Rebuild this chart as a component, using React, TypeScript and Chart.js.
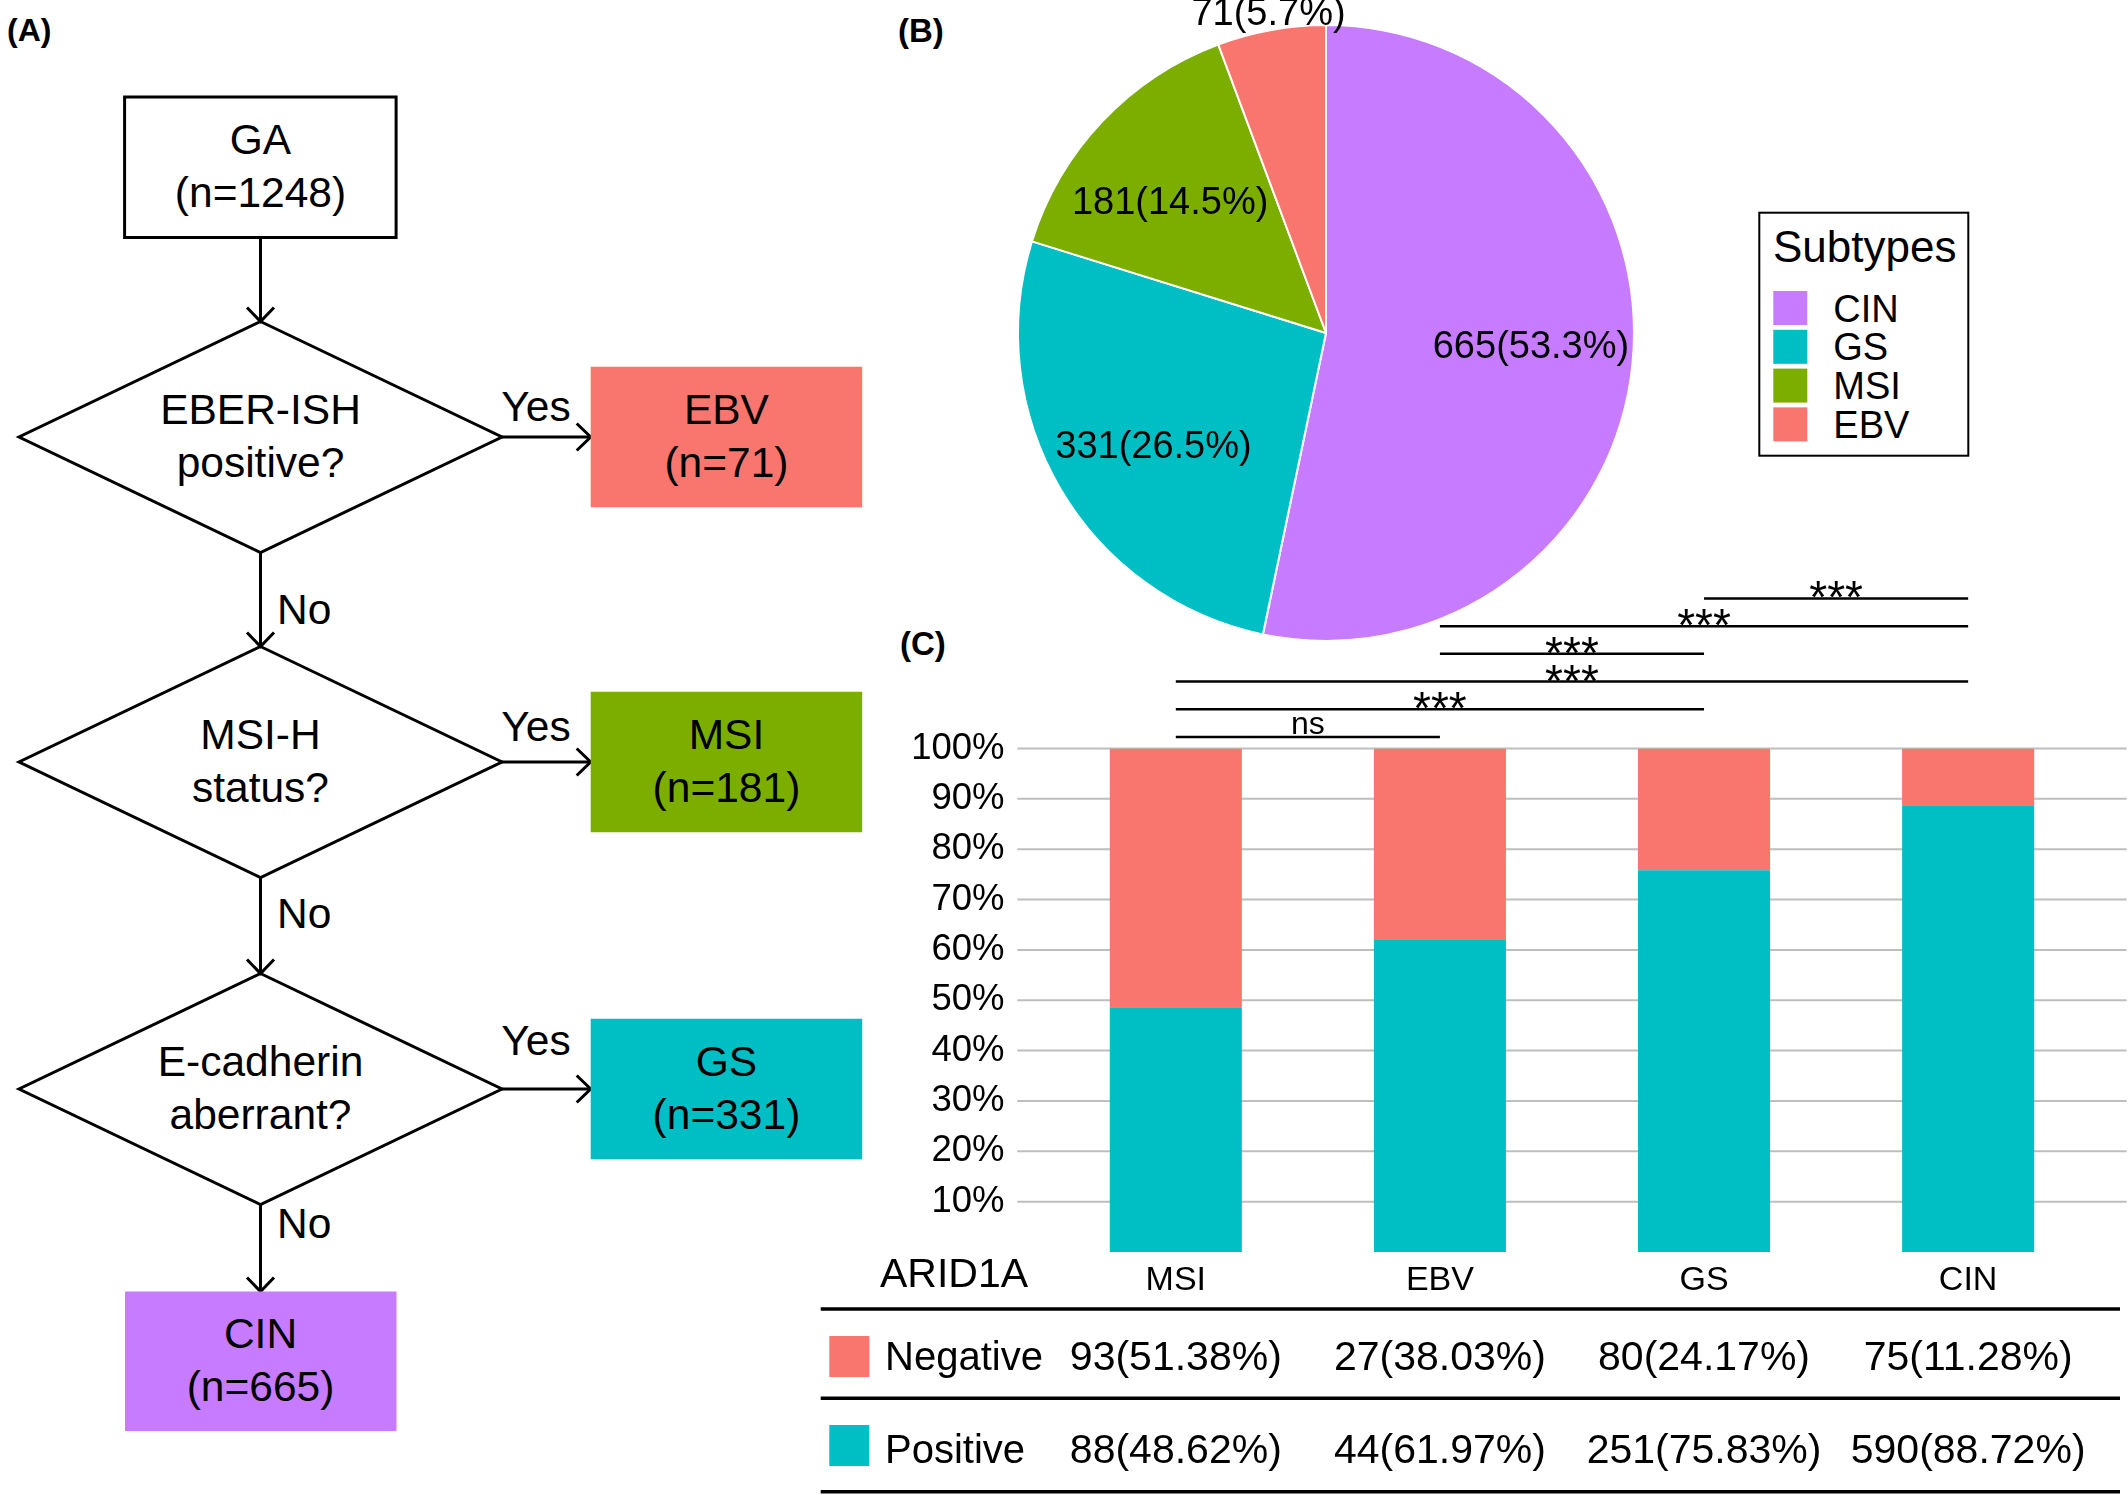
import React, { useEffect, useRef } from "react";
import { Chart, registerables } from "chart.js";

Chart.register(...registerables);

// ---------------- data ----------------
const SUBTYPES = ["CIN", "GS", "MSI", "EBV"];
const SUBTYPE_COUNTS = [665, 331, 181, 71];
const SUBTYPE_COLORS = ["#C77CFF", "#00BFC4", "#7CAE00", "#F8766D"];

const BAR_CATEGORIES = ["MSI", "EBV", "GS", "CIN"];
const SERIES_NAMES = ["Negative", "Positive"];
const ARID1A_NEGATIVE = [93, 27, 80, 75];
const ARID1A_POSITIVE = [88, 44, 251, 590];
const Y_TICK_VALUES = [10, 20, 30, 40, 50, 60, 70, 80, 90, 100];

const SIG_FROM = [0, 0, 0, 1, 1, 2];
const SIG_TO = [1, 2, 3, 2, 3, 3];
const SIG_LABELS = ["ns", "***", "***", "***", "***", "***"];

const FLOW_START = "GA";
const FLOW_QUESTIONS = [
  ["EBER-ISH", "positive?"],
  ["MSI-H", "status?"],
  ["E-cadherin", "aberrant?"],
];
const FLOW_OUTCOMES = ["EBV", "MSI", "GS"];
const FLOW_REST = "CIN";

// ---------------- styles ----------------
const FONT = "'Liberation Sans', Arial, Helvetica, sans-serif";
const NEG_COLOR = "#F8766D";
const POS_COLOR = "#00BFC4";
const GRID_COLOR = "#BEBEBE";
const PIE_LABEL_RADIUS = [0.667, 0.672, 0.657, 1.05];
const PIE_LABEL_SHIFT_DEG = [-2, -3.1, -3.8, 0];
const SIG_BASE = 102.3;
const SIG_STEP = 5.5;

const PIE_CANVAS = { left: 946, top: 0, width: 760, height: 700 };
const BAR_CANVAS = { left: 800, top: 560, width: 1328, height: 934 };

const colorOf = (name: string) => SUBTYPE_COLORS[SUBTYPES.indexOf(name)];
const countOf = (name: string) => SUBTYPE_COUNTS[SUBTYPES.indexOf(name)];

// ---------------- flowchart (SVG) ----------------
function Flowchart() {
  const total = SUBTYPE_COUNTS.reduce((a, b) => a + b, 0);
  const cx = 260.5;
  const hw = 241.5;
  const hh = 115.5;
  const dCY = [437, 762, 1089];
  const outX = 590.7;
  const boxW = 271.5;
  const boxH = 140.5;
  const gaTop = 97;
  const cinTop = 1291.5;
  const yesBase = [421, 741, 1055];
  const noBase = [624, 927.5, 1237.6];
  const sw = 3;
  const fs = 42.5;

  const arrow = (x1: number, y1: number, x2: number, y2: number, key: string) => {
    const ang = Math.atan2(y2 - y1, x2 - x1);
    const back = 14;
    const side = 13.5;
    const bx = x2 - Math.cos(ang) * back;
    const by = y2 - Math.sin(ang) * back;
    const px = -Math.sin(ang) * side;
    const py = Math.cos(ang) * side;
    return (
      <g key={key}>
        <line x1={x1} y1={y1} x2={x2} y2={y2} stroke="#000" strokeWidth={sw} />
        <polyline
          points={`${bx + px},${by + py} ${x2},${y2} ${bx - px},${by - py}`}
          fill="none"
          stroke="#000"
          strokeWidth={sw}
        />
      </g>
    );
  };

  const twoLines = (x: number, cy: number, l1: string, l2: string, key: string) => (
    <g key={key}>
      <text x={x} y={cy - 13} textAnchor="middle" fontSize={fs} fontFamily={FONT} fill="#000">
        {l1}
      </text>
      <text x={x} y={cy + 40} textAnchor="middle" fontSize={fs} fontFamily={FONT} fill="#000">
        {l2}
      </text>
    </g>
  );

  const els: any[] = [];
  els.push(
    <rect key="ga" x={124.6} y={gaTop} width={boxW} height={boxH} fill="none" stroke="#000" strokeWidth={sw} />
  );
  els.push(twoLines(cx, gaTop + boxH / 2, FLOW_START, `(n=${total})`, "gat"));
  els.push(arrow(cx, gaTop + boxH, cx, dCY[0] - hh, "a0"));

  FLOW_QUESTIONS.forEach((q, i) => {
    const cy = dCY[i];
    els.push(
      <polygon
        key={"d" + i}
        points={`${cx},${cy - hh} ${cx + hw},${cy} ${cx},${cy + hh} ${cx - hw},${cy}`}
        fill="none"
        stroke="#000"
        strokeWidth={sw}
        strokeLinejoin="miter"
      />
    );
    els.push(twoLines(cx, cy, q[0], q[1], "dt" + i));
    els.push(arrow(cx + hw, cy, outX, cy, "ya" + i));
    els.push(
      <text key={"yes" + i} x={536} y={yesBase[i]} textAnchor="middle" fontSize={fs} fontFamily={FONT}>
        Yes
      </text>
    );
    const name = FLOW_OUTCOMES[i];
    els.push(<rect key={"ob" + i} x={outX} y={cy - boxH / 2} width={boxW} height={boxH} fill={colorOf(name)} />);
    els.push(twoLines(outX + boxW / 2, cy, name, `(n=${countOf(name)})`, "ot" + i));
    const nextTop = i < FLOW_QUESTIONS.length - 1 ? dCY[i + 1] - hh : cinTop;
    els.push(arrow(cx, cy + hh, cx, nextTop, "na" + i));
    els.push(
      <text key={"no" + i} x={277} y={noBase[i]} fontSize={fs} fontFamily={FONT}>
        No
      </text>
    );
  });

  els.push(<rect key="cin" x={125} y={cinTop} width={boxW} height={boxH - 1} fill={colorOf(FLOW_REST)} />);
  els.push(twoLines(cx, cinTop + (boxH - 1) / 2, FLOW_REST, `(n=${countOf(FLOW_REST)})`, "cint"));

  return <g>{els}</g>;
}

function Legend() {
  const x0 = 1759.3;
  const y0 = 212.7;
  const sqTop = 291;
  const pitch = 38.8;
  return (
    <g>
      <rect x={x0} y={y0} width={209} height={243} fill="#fff" stroke="#000" strokeWidth={2} />
      <text x={1773} y={261.7} fontSize={44} fontFamily={FONT}>
        Subtypes
      </text>
      {SUBTYPES.map((s, i) => (
        <g key={s}>
          <rect x={1773.3} y={sqTop + i * pitch} width={34} height={34} fill={SUBTYPE_COLORS[i]} />
          <text x={1833.3} y={sqTop + i * pitch + 17 + 13.5} fontSize={38} fontFamily={FONT}>
            {s}
          </text>
        </g>
      ))}
    </g>
  );
}

// ---------------- pie chart ----------------
function PieChart() {
  const ref = useRef<HTMLCanvasElement | null>(null);
  useEffect(() => {
    if (!ref.current) return;
    const total = SUBTYPE_COUNTS.reduce((a, b) => a + b, 0);
    const labelPlugin = {
      id: "pieLabels",
      afterDatasetsDraw(chart: any) {
        const { ctx } = chart;
        const meta = chart.getDatasetMeta(0);
        ctx.save();
        ctx.font = `38px ${FONT}`;
        ctx.fillStyle = "#000";
        ctx.textAlign = "center";
        ctx.textBaseline = "middle";
        meta.data.forEach((arc: any, i: number) => {
          const p = arc.getProps(["x", "y", "startAngle", "endAngle", "outerRadius"], true);
          const mid = (p.startAngle + p.endAngle) / 2 + (PIE_LABEL_SHIFT_DEG[i] * Math.PI) / 180;
          const r = p.outerRadius * PIE_LABEL_RADIUS[i];
          const v = SUBTYPE_COUNTS[i];
          const txt = `${v}(${((v / total) * 100).toFixed(1)}%)`;
          ctx.fillText(txt, p.x + Math.cos(mid) * r, p.y + Math.sin(mid) * r);
        });
        ctx.restore();
      },
    };
    const chart = new Chart(ref.current, {
      type: "pie",
      data: {
        labels: SUBTYPES,
        datasets: [
          {
            data: SUBTYPE_COUNTS,
            backgroundColor: SUBTYPE_COLORS,
            borderColor: "#ffffff",
            borderWidth: 2,
          },
        ],
      },
      options: {
        responsive: false,
        animation: false,
        layout: { padding: { left: 71, right: 71, top: 24, bottom: 58 } },
        plugins: { legend: { display: false }, tooltip: { enabled: false } },
      },
      plugins: [labelPlugin],
    } as any);
    return () => chart.destroy();
  }, []);
  return (
    <canvas
      ref={ref}
      width={PIE_CANVAS.width}
      height={PIE_CANVAS.height}
      style={{ position: "absolute", left: PIE_CANVAS.left, top: PIE_CANVAS.top, width: PIE_CANVAS.width, height: PIE_CANVAS.height }}
    />
  );
}

// ---------------- bar chart + table ----------------
function BarChart() {
  const ref = useRef<HTMLCanvasElement | null>(null);
  useEffect(() => {
    if (!ref.current) return;
    const totals = ARID1A_NEGATIVE.map((n, i) => n + ARID1A_POSITIVE[i]);
    const negPct = ARID1A_NEGATIVE.map((n, i) => (n / totals[i]) * 100);
    const posPct = ARID1A_POSITIVE.map((n, i) => (n / totals[i]) * 100);
    const ox = BAR_CANVAS.left;
    const oy = BAR_CANVAS.top;

    // horizontal grid extends 0.1 category beyond the outer category edges (ggplot expansion)
    const gridPlugin = {
      id: "extGrid",
      beforeDatasetsDraw(chart: any) {
        const { ctx, chartArea } = chart;
        const xs = chart.scales.x;
        const ys = chart.scales.y;
        const step = xs.getPixelForValue(1) - xs.getPixelForValue(0);
        const x1 = chartArea.left - 0.1 * step;
        const x2 = chartArea.right + 0.1 * step;
        ctx.save();
        ctx.strokeStyle = GRID_COLOR;
        ctx.lineWidth = 2;
        Y_TICK_VALUES.forEach((v) => {
          const yy = ys.getPixelForValue(v);
          ctx.beginPath();
          ctx.moveTo(x1, yy);
          ctx.lineTo(x2, yy);
          ctx.stroke();
        });
        ctx.restore();
      },
    };

    const overlay = {
      id: "overlay",
      afterDraw(chart: any) {
        const { ctx } = chart;
        const xs = chart.scales.x;
        const ys = chart.scales.y;
        ctx.save();
        ctx.strokeStyle = "#000";
        ctx.fillStyle = "#000";
        ctx.lineWidth = 2.5;
        ctx.textAlign = "center";
        ctx.textBaseline = "alphabetic";
        SIG_LABELS.forEach((lab, k) => {
          const yy = ys.getPixelForValue(SIG_BASE + SIG_STEP * k);
          const x1 = xs.getPixelForValue(SIG_FROM[k]);
          const x2 = xs.getPixelForValue(SIG_TO[k]);
          ctx.beginPath();
          ctx.moveTo(x1, yy);
          ctx.lineTo(x2, yy);
          ctx.stroke();
          if (lab === "ns") {
            ctx.font = `32px ${FONT}`;
            ctx.fillText(lab, (x1 + x2) / 2, yy - 3);
          } else {
            ctx.font = `46px ${FONT}`;
            ctx.fillText(lab, (x1 + x2) / 2, yy + 15);
          }
        });

        // table
        ctx.textAlign = "left";
        ctx.font = `41px ${FONT}`;
        ctx.fillText("ARID1A", 880 - ox, 1286.7 - oy);
        ctx.lineWidth = 3.5;
        [1309, 1398.3, 1491.7].forEach((ly) => {
          ctx.beginPath();
          ctx.moveTo(820.7 - ox, ly - oy);
          ctx.lineTo(2120 - ox, ly - oy);
          ctx.stroke();
        });
        const rows = [
          { top: 1336, base: 1370, color: NEG_COLOR, counts: ARID1A_NEGATIVE },
          { top: 1425, base: 1463.3, color: POS_COLOR, counts: ARID1A_POSITIVE },
        ];
        rows.forEach((r, ri) => {
          ctx.fillStyle = r.color;
          ctx.fillRect(829.3 - ox, r.top - oy, 40, 41);
          ctx.fillStyle = "#000";
          ctx.font = `40px ${FONT}`;
          ctx.textAlign = "left";
          ctx.fillText(SERIES_NAMES[ri], 885 - ox, r.base - oy);
          ctx.textAlign = "center";
          ctx.font = `41px ${FONT}`;
          r.counts.forEach((c, i) => {
            const txt = `${c}(${((c / totals[i]) * 100).toFixed(2)}%)`;
            ctx.fillText(txt, xs.getPixelForValue(i), r.base - oy);
          });
        });
        ctx.restore();
      },
    };

    const chart = new Chart(ref.current, {
      type: "bar",
      data: {
        labels: BAR_CATEGORIES,
        datasets: [
          {
            label: SERIES_NAMES[1],
            data: posPct,
            backgroundColor: POS_COLOR,
            borderWidth: 0,
            barPercentage: 0.5,
            categoryPercentage: 1,
            stack: "s",
          },
          {
            label: SERIES_NAMES[0],
            data: negPct,
            backgroundColor: NEG_COLOR,
            borderWidth: 0,
            barPercentage: 0.5,
            categoryPercentage: 1,
            stack: "s",
          },
        ],
      },
      options: {
        responsive: false,
        animation: false,
        layout: { padding: { left: 0, right: 27.8, top: 188.5, bottom: 192 } },
        plugins: { legend: { display: false }, tooltip: { enabled: false } },
        scales: {
          x: {
            type: "category",
            offset: true,
            stacked: true,
            grid: { display: false },
            border: { display: false },
            afterFit: (axis: any) => {
              axis.height = 50;
            },
            ticks: {
              autoSkip: false,
              maxRotation: 0,
              font: { family: FONT, size: 34 },
              color: "#000",
              padding: 0,
            },
          },
          y: {
            type: "linear",
            min: 0,
            max: 100,
            stacked: true,
            border: { display: false },
            grid: { display: false, drawTicks: false },
            afterBuildTicks: (axis: any) => {
              axis.ticks = Y_TICK_VALUES.map((v) => ({ value: v }));
            },
            afterFit: (axis: any) => {
              axis.width = 243.75;
            },
            ticks: {
              callback: (v: any) => `${v}%`,
              font: { family: FONT, size: 36.5 },
              color: "#000",
              padding: 39.25,
            },
          },
        },
      },
      plugins: [gridPlugin, overlay],
    } as any);
    return () => chart.destroy();
  }, []);
  return (
    <canvas
      ref={ref}
      width={BAR_CANVAS.width}
      height={BAR_CANVAS.height}
      style={{ position: "absolute", left: BAR_CANVAS.left, top: BAR_CANVAS.top, width: BAR_CANVAS.width, height: BAR_CANVAS.height }}
    />
  );
}

export default function App() {
  useEffect(() => {
    document.body.style.margin = "0";
  }, []);
  return (
    <div
      style={{
        position: "absolute",
        left: 0,
        top: 0,
        width: 2128,
        height: 1494,
        background: "#fff",
        overflow: "hidden",
        fontFamily: FONT,
      }}
    >
      <svg width={2128} height={1494} style={{ position: "absolute", left: 0, top: 0 }}>
        <text x={7} y={41} fontSize={32} fontWeight="bold" fontFamily={FONT}>
          (A)
        </text>
        <text x={898} y={42} fontSize={33} fontWeight="bold" fontFamily={FONT}>
          (B)
        </text>
        <text x={900} y={655} fontSize={33} fontWeight="bold" fontFamily={FONT}>
          (C)
        </text>
        <Flowchart />
        <Legend />
      </svg>
      <PieChart />
      <BarChart />
    </div>
  );
}
